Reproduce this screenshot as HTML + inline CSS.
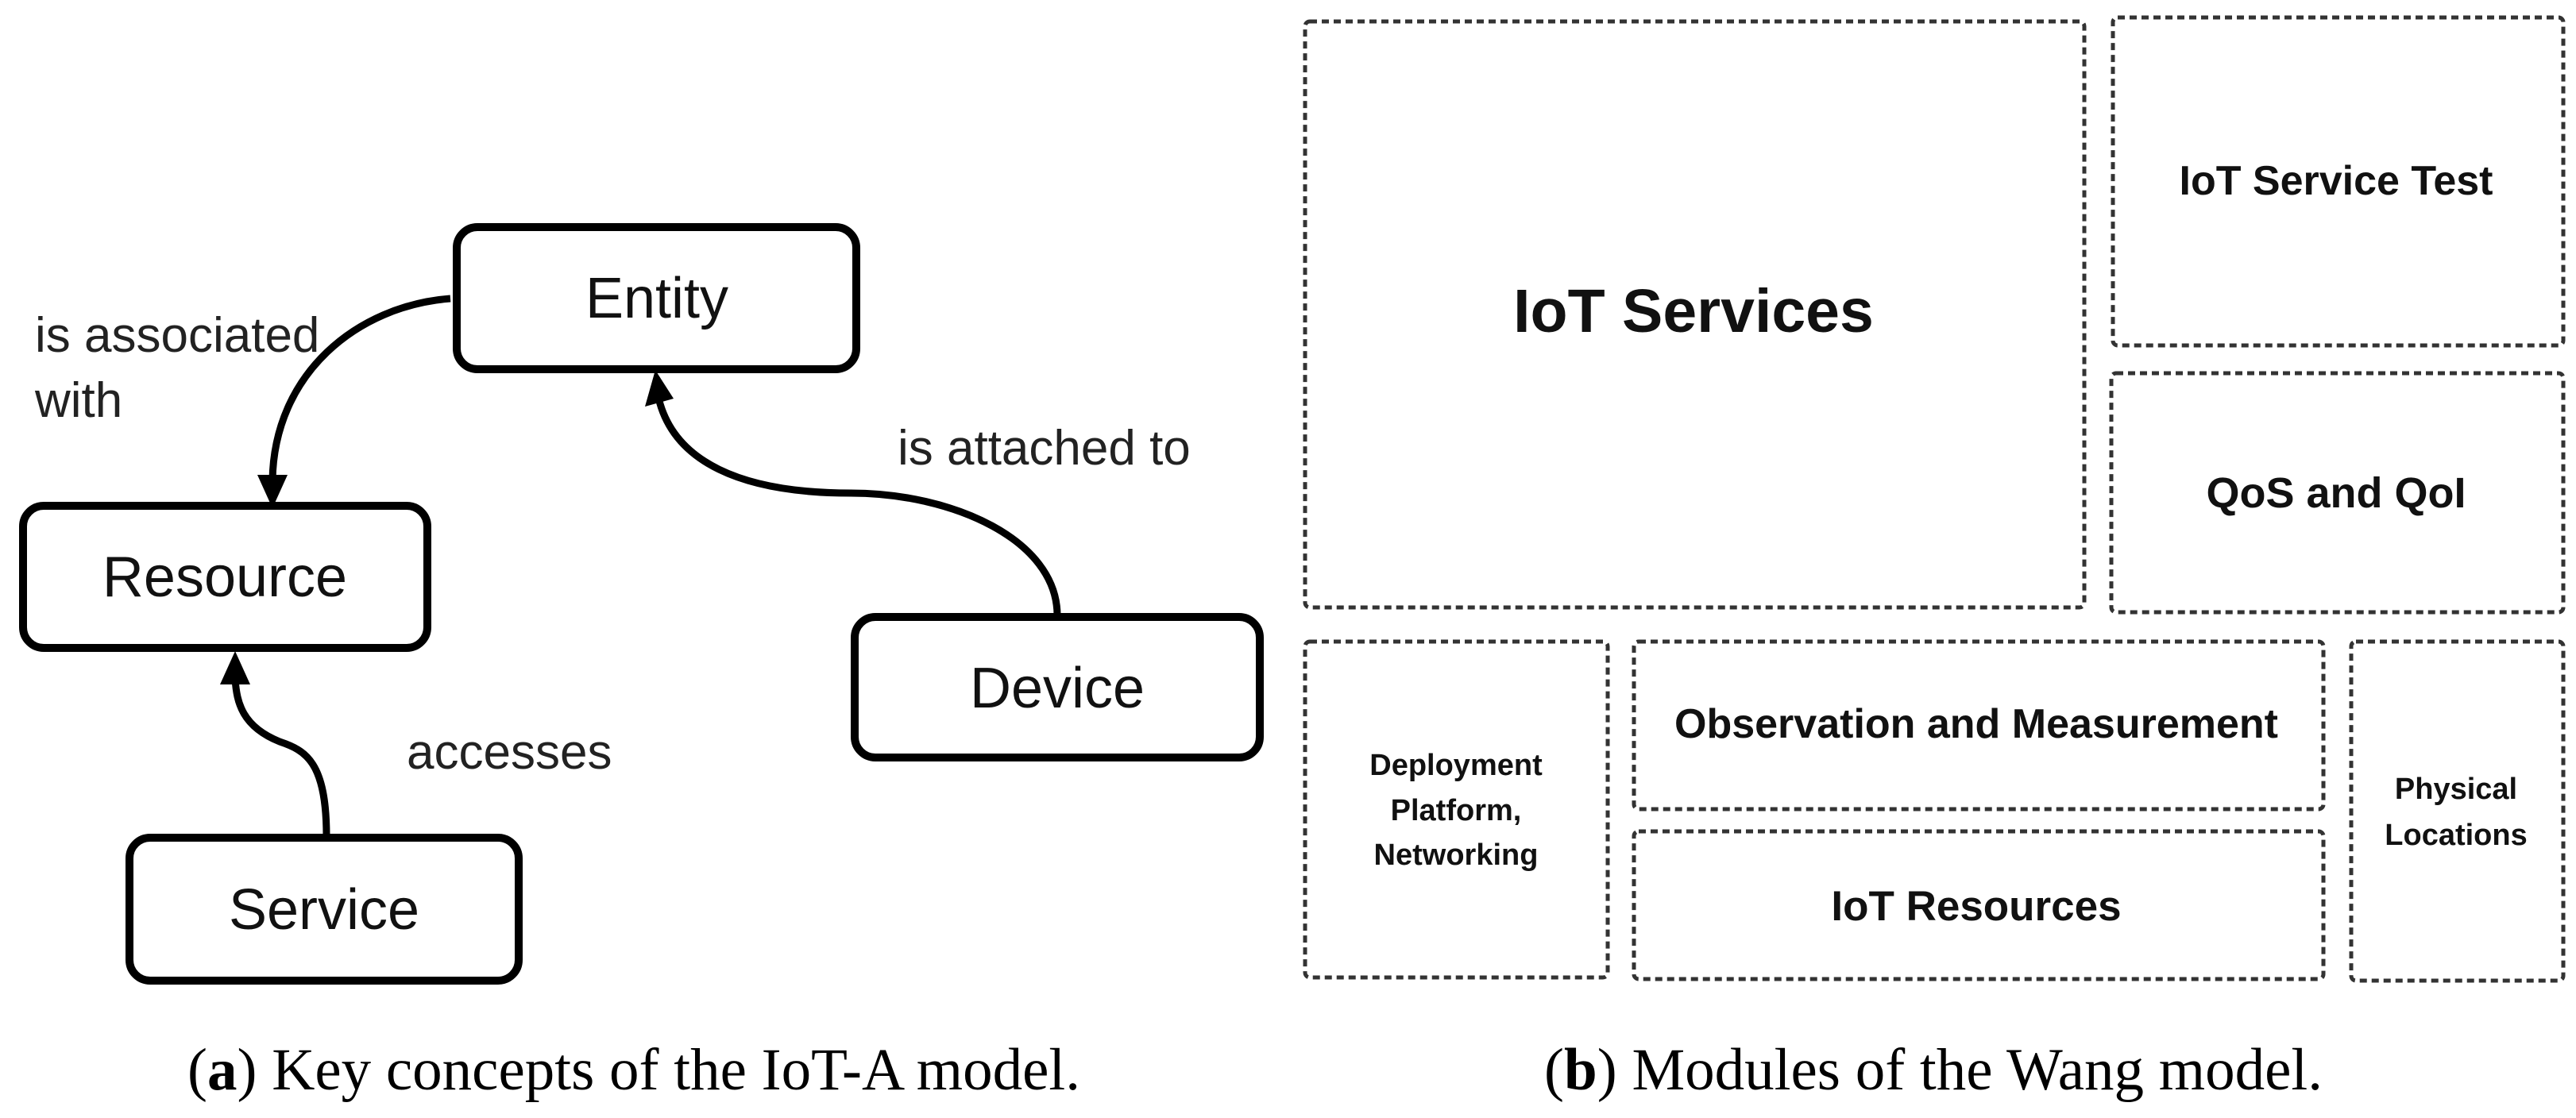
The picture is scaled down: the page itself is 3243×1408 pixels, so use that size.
<!DOCTYPE html>
<html><head><meta charset="utf-8"><style>
html,body{margin:0;padding:0;background:#fff;}
svg{display:block;}
</style></head><body>
<svg width="3243" height="1408" viewBox="0 0 3243 1408" xmlns="http://www.w3.org/2000/svg">
<g fill="#fff" stroke="#000" stroke-width="10">
<rect x="575" y="286" width="503" height="179" rx="26"/>
<rect x="29" y="637" width="509" height="179" rx="26"/>
<rect x="1076" y="777" width="510" height="177" rx="26"/>
<rect x="163" y="1055" width="490" height="180" rx="26"/>
</g>
<g fill="none" stroke="#000" stroke-width="9">
<path d="M567,376 C450,385 345,470 343,605"/>
<path d="M1331,774 C1330,680 1200,621 1071,621 C930,621 850,580 830,505"/>
<path d="M411,1053 C411,960 385,945 352,934 C305,915 298,885 296,855"/>
</g>
<g fill="#000">
<polygon points="343,640 324,598 362,598"/>
<polygon points="825,466 812,512 848,502"/>
<polygon points="296,820 277,862 315,862"/>
</g>
<g font-family="Liberation Sans, sans-serif" font-size="72" fill="#111" text-anchor="middle">
<text x="827" y="400">Entity</text>
<text x="283" y="751">Resource</text>
<text x="1331" y="891">Device</text>
<text x="408" y="1170">Service</text>
</g>
<g font-family="Liberation Sans, sans-serif" font-size="62" fill="#222">
<text x="44" y="443">is associated</text>
<text x="44" y="525">with</text>
<text x="1130" y="585">is attached to</text>
<text x="512" y="968">accesses</text>
</g>
<g fill="none" stroke="#333" stroke-width="5" stroke-dasharray="9 6">
<rect x="1643" y="27" width="981" height="738" rx="6"/>
<rect x="2660" y="22" width="567" height="413" rx="6"/>
<rect x="2658" y="470" width="569" height="301" rx="6"/>
<rect x="1643" y="808" width="381" height="423" rx="6"/>
<rect x="2057" y="808" width="868" height="211" rx="6"/>
<rect x="2057" y="1047" width="868" height="186" rx="6"/>
<rect x="2960" y="808" width="267" height="427" rx="6"/>
</g>
<g font-family="Liberation Sans, sans-serif" font-weight="bold" fill="#111" text-anchor="middle">
<text x="2132" y="418" font-size="77">IoT Services</text>
<text x="2941" y="245" font-size="52">IoT Service Test</text>
<text x="2941" y="639" font-size="54">QoS and QoI</text>
<text x="2488" y="929" font-size="52">Observation and Measurement</text>
<text x="2488" y="1159" font-size="53">IoT Resources</text>
<text x="1833" y="976" font-size="38">Deployment</text>
<text x="1833" y="1033" font-size="38">Platform,</text>
<text x="1833" y="1089" font-size="38">Networking</text>
<text x="3092" y="1006" font-size="38">Physical</text>
<text x="3092" y="1064" font-size="38">Locations</text>
</g>
<g font-family="Liberation Serif, serif" font-size="75" fill="#000" text-anchor="middle">
<text x="798" y="1372">(<tspan font-weight="bold">a</tspan>) Key concepts of the IoT-A model.</text>
<text x="2434" y="1372">(<tspan font-weight="bold">b</tspan>) Modules of the Wang model.</text>
</g>
</svg>
</body></html>
